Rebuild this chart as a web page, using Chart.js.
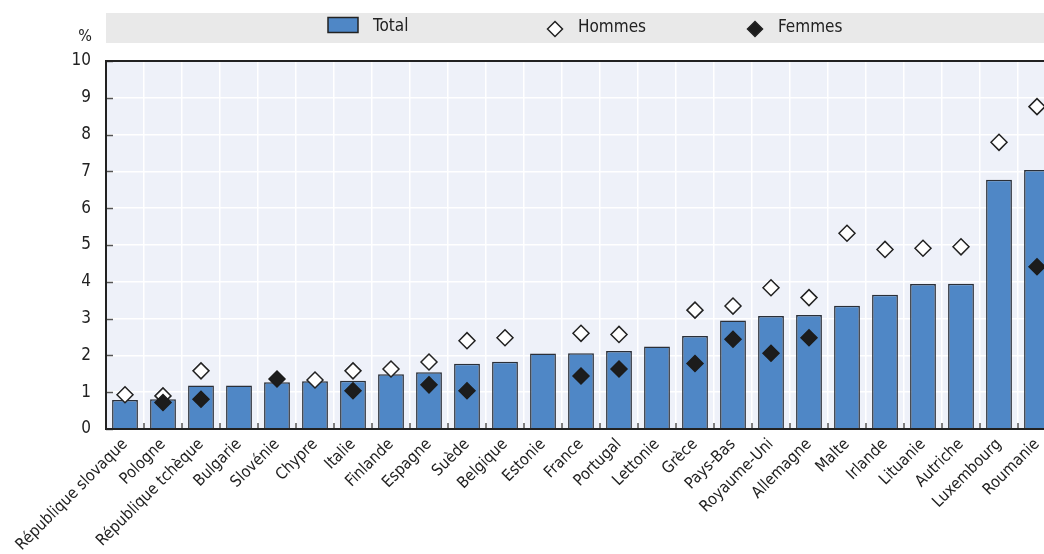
<!DOCTYPE html>
<html>
<head>
<meta charset="utf-8">
<script src="https://cdn.jsdelivr.net/npm/chart.js@4.4.1/dist/chart.umd.min.js"></script>
<style>
  html, body { margin: 0; padding: 0; background: #ffffff; overflow: hidden; }
  #wrap { width: 1080px; height: 554px; }
</style>
</head>
<body>
<div id="wrap"><canvas id="chart" width="1080" height="554"></canvas></div>
<script>
// Pays (ordre croissant du total)
const pays = [
  'République slovaque', 'Pologne', 'République tchèque', 'Bulgarie', 'Slovénie',
  'Chypre', 'Italie', 'Finlande', 'Espagne', 'Suède', 'Belgique', 'Estonie',
  'France', 'Portugal', 'Lettonie', 'Grèce', 'Pays-Bas', 'Royaume-Uni',
  'Allemagne', 'Malte', 'Irlande', 'Lituanie', 'Autriche', 'Luxembourg', 'Roumanie'
];

// Total, en %
const total = [
  0.79, 0.81, 1.18, 1.18, 1.27, 1.30, 1.31, 1.49, 1.54, 1.77, 1.83, 2.05,
  2.06, 2.12, 2.24, 2.53, 2.95, 3.07, 3.10, 3.35, 3.65, 3.94, 3.95, 6.77, 7.04
];

// Hommes, en % (null : non disponible)
const hommes = [
  0.93, 0.90, 1.58, null, null, 1.33, 1.58, 1.63, 1.82, 2.40, 2.48, null,
  2.60, 2.57, null, 3.23, 3.34, 3.84, 3.57, 5.32, 4.88, 4.91, 4.95, 7.79, 8.76
];

// Femmes, en % (null : non disponible)
const femmes = [
  null, 0.72, 0.81, null, 1.36, null, 1.04, null, 1.20, 1.04, null, null,
  1.44, 1.63, null, 1.78, 2.44, 2.06, 2.48, null, null, null, null, null, 4.41
];

const yTicks = [0, 1, 2, 3, 4, 5, 6, 7, 8, 9, 10];

const FONT = '"Liberation Sans Narrow", "DejaVu Sans Condensed", "Roboto", sans-serif';
const BAR_BLUE = '#4f87c6';
const DARK = '#222222';

// Fond de la zone de tracé, cadre, graduations intérieures, unité et légende
const decor = {
  id: 'decor',
  beforeDraw(chart) {
    const { ctx, chartArea: a } = chart;
    ctx.save();
    ctx.fillStyle = '#eef1f9';
    ctx.fillRect(a.left, a.top, a.right - a.left, a.bottom - a.top);
    ctx.restore();
  },
  afterDatasetsDraw(chart) {
    const { ctx, chartArea: a, scales } = chart;
    ctx.save();
    // graduations intérieures de l'axe horizontal (aux limites des catégories)
    ctx.strokeStyle = '#555555';
    ctx.lineWidth = 1.5;
    const x = scales.x;
    for (let i = 0; i <= pays.length; i++) {
      const px = Math.round(x.getPixelForValue(i - 0.5));
      ctx.beginPath();
      ctx.moveTo(px, a.bottom);
      ctx.lineTo(px, a.bottom - 6);
      ctx.stroke();
    }
    // graduations intérieures de l'axe vertical
    const y = scales.y;
    yTicks.forEach(v => {
      const py = Math.round(y.getPixelForValue(v)) + 0.5;
      ctx.beginPath();
      ctx.moveTo(a.left, py);
      ctx.lineTo(a.left + 7, py);
      ctx.stroke();
    });
    // cadre : haut, gauche, bas
    ctx.strokeStyle = DARK;
    ctx.lineWidth = 2;
    ctx.beginPath();
    ctx.moveTo(a.right + 20, a.top);
    ctx.lineTo(a.left, a.top);
    ctx.lineTo(a.left, a.bottom);
    ctx.lineTo(a.right + 20, a.bottom);
    ctx.stroke();
    ctx.restore();
  },
  afterDraw(chart) {
    const { ctx, chartArea: a } = chart;
    ctx.save();
    // unité
    ctx.fillStyle = DARK;
    ctx.font = '16px ' + FONT;
    ctx.textAlign = 'right';
    ctx.textBaseline = 'middle';
    ctx.fillText('%', 92, 37);

    // légende
    ctx.fillStyle = '#e9e9e9';
    ctx.fillRect(a.left, 13, chart.width - a.left, 30);
    const ds = chart.data.datasets;
    ctx.font = '17px ' + FONT;
    ctx.textAlign = 'left';
    ctx.textBaseline = 'middle';
    const cy = 27;
    // Total
    ctx.fillStyle = ds[0].backgroundColor;
    ctx.strokeStyle = DARK;
    ctx.lineWidth = 1.5;
    ctx.fillRect(328, 17.5, 30, 15);
    ctx.strokeRect(328, 17.5, 30, 15);
    ctx.fillStyle = DARK;
    ctx.fillText(ds[0].label, 373, cy);
    // Hommes / Femmes
    const diamond = (cx, cyy, r, fill) => {
      ctx.beginPath();
      ctx.moveTo(cx, cyy - r);
      ctx.lineTo(cx + r, cyy);
      ctx.lineTo(cx, cyy + r);
      ctx.lineTo(cx - r, cyy);
      ctx.closePath();
      ctx.fillStyle = fill;
      ctx.fill();
      ctx.strokeStyle = DARK;
      ctx.lineWidth = 1.5;
      ctx.stroke();
    };
    diamond(555, 29, 7.5, ds[1].pointBackgroundColor);
    ctx.fillStyle = DARK;
    ctx.fillText(ds[1].label, 578, 28);
    diamond(755, 29, 7.5, ds[2].pointBackgroundColor);
    ctx.fillStyle = DARK;
    ctx.fillText(ds[2].label, 778, 28);
    ctx.restore();
  }
};

new Chart(document.getElementById('chart'), {
  data: {
    labels: pays,
    datasets: [
      {
        type: 'bar',
        label: 'Total',
        data: total,
        backgroundColor: BAR_BLUE,
        borderColor: '#2a2f38',
        borderWidth: 1.5,
        categoryPercentage: 1,
        barPercentage: 0.68,
        order: 3
      },
      {
        type: 'line',
        label: 'Hommes',
        data: hommes,
        showLine: false,
        pointStyle: 'rectRot',
        pointRadius: 8,
        pointHoverRadius: 8,
        pointBackgroundColor: '#ffffff',
        pointBorderColor: DARK,
        pointBorderWidth: 1.5,
        order: 2
      },
      {
        type: 'line',
        label: 'Femmes',
        data: femmes,
        showLine: false,
        pointStyle: 'rectRot',
        pointRadius: 8,
        pointHoverRadius: 8,
        pointBackgroundColor: '#1c1c1c',
        pointBorderColor: '#1c1c1c',
        pointBorderWidth: 1.5,
        order: 1
      }
    ]
  },
  options: {
    responsive: false,
    animation: false,
    layout: { padding: { top: 61, right: 24, left: 0, bottom: 0 } },
    plugins: {
      legend: { display: false },
      tooltip: { enabled: false }
    },
    scales: {
      x: {
        offset: true,
        grid: {
          offset: true,
          color: '#ffffff',
          lineWidth: 1.5,
          drawTicks: false
        },
        border: { display: false },
        ticks: {
          autoSkip: false,
          maxRotation: 45,
          minRotation: 45,
          padding: 6,
          color: DARK,
          font: { family: FONT, size: 16 }
        },
        afterFit(scale) { scale.height = 125; }
      },
      y: {
        min: 0,
        max: 10,
        afterBuildTicks(scale) { scale.ticks = yTicks.map(v => ({ value: v })); },
        grid: {
          color: '#ffffff',
          lineWidth: 1.5,
          drawTicks: false
        },
        border: { display: false },
        ticks: {
          padding: 15,
          color: DARK,
          font: { family: FONT, size: 17 }
        },
        afterFit(scale) { scale.width = 106; }
      }
    }
  },
  plugins: [decor]
});
</script>
</body>
</html>
